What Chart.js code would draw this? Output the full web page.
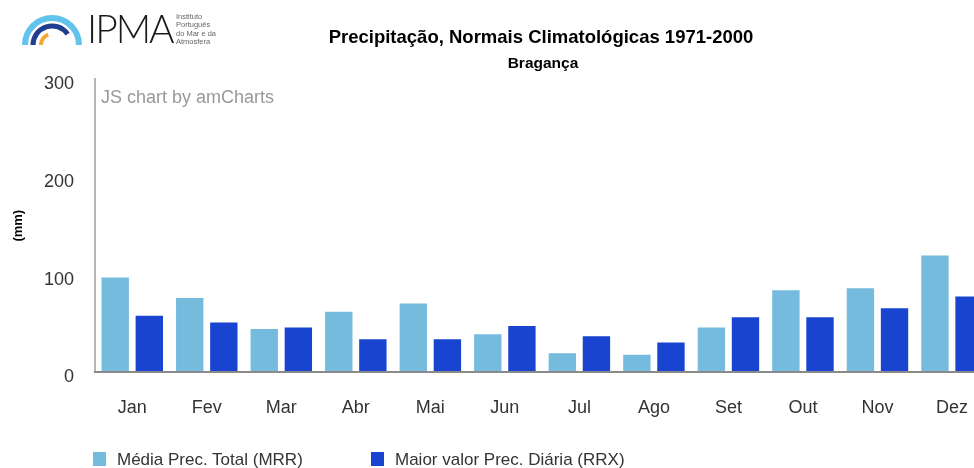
<!DOCTYPE html>
<html>
<head>
<meta charset="utf-8">
<script src="https://cdn.jsdelivr.net/npm/chart.js@4/dist/chart.umd.min.js"></script>
<style>
  html, body { margin:0; padding:0; background:#fff; overflow:hidden; width:974px; height:468px; }
  #wrap { position:relative; width:993px; height:468px; }
  #c { position:absolute; left:0; top:0; }
  #logo { position:absolute; left:0; top:0; width:240px; height:60px; }
  .ipma { position:absolute; left:87px; top:8px; font-family:Lato, Roboto, "Liberation Sans", sans-serif; font-weight:300; font-size:39px; color:#1a1a1a; letter-spacing:-2px; line-height:40px; }
  .inst { position:absolute; left:176px; top:13px; font-family:"Liberation Sans", Arial, sans-serif; font-size:7.5px; line-height:8.3px; color:#666; }
  #legend { position:absolute; left:0; top:0; width:974px; height:468px; pointer-events:none; }
  .li { position:absolute; top:450px; font-family:"Liberation Sans", Arial, sans-serif; font-size:17px; color:#333; white-space:nowrap; }
  .sw { position:absolute; top:2px; width:13px; height:14px; }
  .lt { position:absolute; left:24px; top:0; line-height:20px; }
</style>
</head>
<body>
<div id="wrap">
  <canvas id="c" width="993" height="468"></canvas>
  <svg id="logo" width="240" height="60">
    <path d="M25,45 A27,27 0 0 1 79,45" fill="none" stroke="#62c3ec" stroke-width="6"/>
    <path d="M33,45 A19,19 0 0 1 67.6,34.1" fill="none" stroke="#203d8e" stroke-width="5"/>
    <path d="M41,45 A11,11 0 0 1 48.2,34.7" fill="none" stroke="#f5a733" stroke-width="4"/>
  </svg>
  <div class="ipma">IPMA</div>
  <div class="inst">Instituto<br>Português<br>do Mar e da<br>Atmosfera</div>
  <div id="legend"></div>
</div>
<script>
const categories = ['Jan','Fev','Mar','Abr','Mai','Jun','Jul','Ago','Set','Out','Nov','Dez'];
const mrrValues = [97, 76, 44.5, 62, 70.5, 39, 19.5, 18, 46, 84, 86, 119.5];
const rrxValues = [58, 51, 46, 34, 34, 47.5, 37, 30.5, 56.5, 56.5, 65.5, 77.5];
const seriesNames = ['Média Prec. Total (MRR)', 'Maior valor Prec. Diária (RRX)'];
const seriesColors = ['#75bbdd', '#1944d0'];
const yTicks = [0, 100, 200, 300];
const titleText = 'Precipitação, Normais Climatológicas 1971-2000';
const subtitleText = 'Bragança';
const yAxisTitle = '(mm)';
const creditText = 'JS chart by amCharts';

const FONT = '"Liberation Sans", Arial, sans-serif';

const headerPlugin = {
  id: 'header',
  afterDraw(chart) {
    const ctx = chart.ctx;
    ctx.save();
    ctx.textAlign = 'center';
    ctx.textBaseline = 'middle';
    ctx.fillStyle = '#000';
    ctx.font = 'bold 18.5px ' + FONT;
    ctx.fillText(titleText, 541, 38);
    ctx.font = 'bold 15.5px ' + FONT;
    ctx.fillText(subtitleText, 543, 64);
    ctx.textAlign = 'left';
    ctx.fillStyle = '#999';
    ctx.font = '18px ' + FONT;
    ctx.fillText(creditText, 101, 98);
    ctx.restore();
  }
};

new Chart(document.getElementById('c'), {
  type: 'bar',
  data: {
    labels: categories,
    datasets: [
      { label: seriesNames[0], data: mrrValues, backgroundColor: seriesColors[0], borderWidth: 0 },
      { label: seriesNames[1], data: rrxValues, backgroundColor: seriesColors[1], borderWidth: 0 }
    ]
  },
  options: {
    responsive: false,
    animation: false,
    devicePixelRatio: 1,
    layout: { padding: { top: 79, right: 0, bottom: 24, left: 0 } },
    datasets: { bar: { categoryPercentage: 0.915, barPercentage: 0.803 } },
    plugins: { legend: { display: false }, tooltip: { enabled: false }, title: { display: false } },
    scales: {
      x: {
        grid: { display: false, drawTicks: false },
        border: { display: true, color: '#8a8a8a', width: 2, z: 1 },
        ticks: { color: '#333', font: { family: FONT, size: 18 }, padding: 25, maxRotation: 0, autoSkip: false }
      },
      y: {
        min: 0, max: 300,
        afterBuildTicks(scale) { scale.ticks = yTicks.map(v => ({ value: v })); },
        afterFit(scale) { scale.width = 95; },
        grid: { display: false, drawTicks: false },
        border: { display: true, color: '#b5b5b5', width: 2 },
        ticks: { color: '#333', font: { family: FONT, size: 18 }, padding: 21, labelOffset: 5 },
        title: { display: true, text: yAxisTitle, color: '#000', font: { family: FONT, size: 13, weight: 'bold' }, padding: { top: 11, bottom: 0 } }
      }
    }
  },
  plugins: [headerPlugin]
});

const legendEl = document.getElementById('legend');
const legendX = [93, 371];
seriesNames.forEach((name, i) => {
  const item = document.createElement('div');
  item.className = 'li';
  item.style.left = legendX[i] + 'px';
  const sw = document.createElement('div');
  sw.className = 'sw';
  sw.style.background = seriesColors[i];
  const t = document.createElement('div');
  t.className = 'lt';
  t.textContent = name;
  item.appendChild(sw);
  item.appendChild(t);
  legendEl.appendChild(item);
});
</script>
</body>
</html>
